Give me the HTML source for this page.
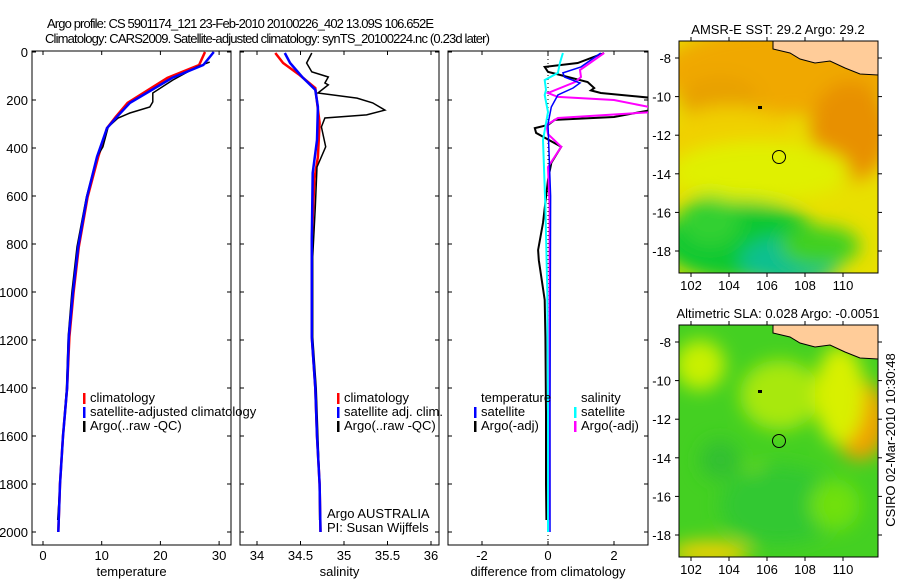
<!DOCTYPE html>
<html><head><meta charset="utf-8">
<style>
body{margin:0;background:#fff;width:900px;height:580px;overflow:hidden;font-family:"Liberation Sans",sans-serif}
svg text{font-family:"Liberation Sans",sans-serif;font-size:13px;fill:#000}
</style></head>
<body>
<svg id="s" width="900" height="580" xmlns="http://www.w3.org/2000/svg">
<text x="47" y="28" textLength="387">Argo profile: CS 5901174_121 23-Feb-2010 20100226_402 13.09S 106.652E</text>
<text x="45" y="43" textLength="445">Climatology: CARS2009. Satellite-adjusted climatology: synTS_20100224.nc (0.23d later)</text>
<defs>
<filter id="bl" x="-20%" y="-20%" width="140%" height="140%"><feGaussianBlur stdDeviation="9"/></filter>
<clipPath id="c1"><rect x="679" y="41" width="199" height="232"/></clipPath>
<clipPath id="c2"><rect x="679" y="325" width="199" height="232"/></clipPath>
<clipPath id="p1"><rect x="32" y="51" width="199" height="494"/></clipPath>
<clipPath id="p2"><rect x="240" y="51" width="199" height="494"/></clipPath>
<clipPath id="p3"><rect x="448" y="51" width="200" height="494"/></clipPath>
</defs>
<g id="g"></g>
<text transform="translate(895,440) rotate(-90)" text-anchor="middle">CSIRO 02-Mar-2010 10:30:48</text>
</svg>
<script>
// depths
const tDep=[0,54,108,212,270,317,437,604,812,1004,1187,1400,1600,1800,2000];
const tSat=[29.1,27.3,22,14.8,12.6,10.9,9.2,7.5,6.0,5.1,4.4,4.1,3.4,2.9,2.6];
const tClim=[27.6,26.6,21.2,14.4,12.4,10.9,9.4,7.6,6.1,5.2,4.5,4.1,3.4,2.9,2.6];
const tArgoDep=[42,62,117,171,208,229,254,275,312,395,437,604,812,1004,1187,1400,1600,1800,1950];
const tArgo=[28.4,26.2,22.1,18.7,18.7,18.2,14.8,12.8,11.1,10.2,9.2,7.4,5.8,4.9,4.3,4.0,3.4,2.9,2.5];
const sDep=[4,46,104,158,229,367,504,783,1187,1400,1600,1800,2000];
const sSat=[34.32,34.38,34.52,34.67,34.70,34.69,34.64,34.63,34.63,34.67,34.69,34.72,34.73];
const sClimDep=[4,46,96,150,296,437,529,783,1187,1400,1600,1800,2000];
const sClim=[34.21,34.30,34.49,34.67,34.72,34.70,34.66,34.63,34.63,34.67,34.69,34.72,34.73];
const sArgoDep=[4,46,83,104,129,137,171,192,212,242,262,275,312,395,479,646,854,1187,1400,1600,1800,1950];
const sArgo=[34.63,34.57,34.63,34.82,34.78,34.82,34.70,35.15,35.33,35.47,35.26,34.78,34.74,34.79,34.69,34.67,34.64,34.64,34.68,34.70,34.72,34.72];
const dTArgoDep=[4,46,62,83,125,150,160,171,192,240,271,283,304,317,337,395,462,533,712,825,867,1033,1187,1500,1800,1950];
const dTArgo=[1.7,0.9,-0.1,0,1.2,1.4,1.3,1.6,3.2,3.2,2.0,0.2,0,-0.4,-0.36,0.4,0.1,0,-0.15,-0.3,-0.28,-0.1,-0.08,-0.06,-0.06,-0.05];
const dTSatDep=[4,62,87,104,129,150,179,229,300,600,1000,1500,2000];
const dTSat=[1.6,1.0,0.45,0.5,0.97,0.76,0.3,0.1,0,0.08,0.07,0.06,0.06];
const dSSatDep=[4,46,87,117,158,179,250,367,646,1000,1500,2000];
const dSSat=[0.45,0.36,0.3,-0.1,-0.06,-0.1,0,-0.15,-0.08,-0.02,0,0];
const dSArgoDep=[4,75,104,125,171,187,200,233,250,275,304,342,395,479,646,1000,1500,1950];
const dSArgo=[1.7,0.97,1.0,0.82,0,0.3,2.0,3.2,3.2,0.3,-0.05,0,0.4,0,0.05,0.05,0.05,0.05];
const depthTicks=[0,200,400,600,800,1000,1200,1400,1600,1800,2000];
const p1Ticks=[0,10,20,30], p2Ticks=[34,34.5,35,35.5,36], p3Ticks=[-2,0,2];
const lonTicks=[102,104,106,108,110], latTicks=[-8,-10,-12,-14,-16,-18];

const NS='http://www.w3.org/2000/svg', G=document.getElementById('g');
function el(t,a,p){const e=document.createElementNS(NS,t);for(const k in a)e.setAttribute(k,a[k]);(p||G).appendChild(e);return e;}
const yD=d=>52+0.24*d;
const x1=v=>43+5.87*v, x2=v=>257+87*(v-34), x3=v=>548+33*v;
function line(xs,ds,xf,col,w,clip,name){
  const pts=xs.map((v,i)=>xf(v).toFixed(1)+','+yD(ds[i]).toFixed(1)).join(' ');
  const e=el('polyline',{points:pts,fill:'none',stroke:col,'stroke-width':w,'clip-path':'url(#'+clip+')'});
  
  
}
function panel(x0,w,xf,ticks,label,ylab,clip,name){
  const f=el('rect',{x:x0,y:51,width:w,height:494,fill:'#fff',stroke:'#000','stroke-width':1});
  
  
  ticks.forEach(t=>{const x=xf(t);
    el('line',{x1:x,x2:x,y1:545,y2:541,stroke:'#000'});el('line',{x1:x,x2:x,y1:51,y2:55,stroke:'#000'});
    const tx=el('text',{x:x,y:560,'text-anchor':'middle'});tx.textContent=t;
    
    });
  depthTicks.forEach(d=>{const y=yD(d);
    el('line',{x1:x0,x2:x0+4,y1:y,y2:y,stroke:'#000'});el('line',{x1:x0+w-4,x2:x0+w,y1:y,y2:y,stroke:'#000'});
    if(ylab){const tx=el('text',{x:28,y:y+5,'text-anchor':'end'});tx.textContent=d;
      
      }});
  const lb=el('text',{x:x0+w/2,y:576,'text-anchor':'middle'});lb.textContent=label;
  
  
}
panel(32,199,x1,p1Ticks,'temperature',true,'p1','temperature-panel');
panel(240,199,x2,p2Ticks,'salinity',false,'p2','salinity-panel');
panel(448,200,x3,p3Ticks,'difference from climatology',false,'p3','difference-panel');
el('line',{x1:548,x2:548,y1:51,y2:545,stroke:'#000','stroke-dasharray':'1,3'});

line(tClim,tDep,x1,'#f00',2.5,'p1','temp-climatology-line');
line(tArgo,tArgoDep,x1,'#000',1.5,'p1','temp-argo-line');
line(tSat,tDep,x1,'#00f',2.5,'p1','temp-satellite-line');
line(sClim,sClimDep,x2,'#f00',2.5,'p2','sal-climatology-line');
line(sArgo,sArgoDep,x2,'#000',1.5,'p2','sal-argo-line');
line(sSat,sDep,x2,'#00f',2.5,'p2','sal-satellite-line');
line(dTArgo,dTArgoDep,x3,'#000',2,'p3','diff-temp-argo-line');
line(dSArgo,dSArgoDep,x3,'#f0f',2,'p3','diff-sal-argo-line');
line(dTSat,dTSatDep,x3,'#00f',1.5,'p3','diff-temp-satellite-line');
line(dSSat,dSSatDep,x3,'#0ff',2,'p3','diff-sal-satellite-line');

function legend(x,y,items){items.forEach((it,i)=>{
  if(it[1])el('rect',{x:x,y:y+i*14-9,width:2.5,height:11,fill:it[1]});
  const t=el('text',{x:x+7,y:y+i*14});t.textContent=it[0];
  
  });}
legend(83,402,[['climatology','#f00'],['satellite-adjusted climatology','#00f'],['Argo(..raw -QC)','#000']]);
legend(337,402,[['climatology','#f00'],['satellite adj. clim.','#00f'],['Argo(..raw -QC)','#000']]);
legend(474,402,[['temperature',null],['satellite','#00f'],['Argo(-adj)','#000']]);
legend(574,402,[['salinity',null],['satellite','#0ff'],['Argo(-adj)','#f0f']]);
const a1=el('text',{x:327,y:518});a1.textContent='Argo AUSTRALIA';


const a2=el('text',{x:327,y:532});a2.textContent='PI: Susan Wijffels';



// maps
const lonX=l=>691+19*(l-102), latY=(la,top)=>top+17+19.3*(-8-la);
function map(top,clip,bg,blobs,title,name){
  const g=el('g',{'clip-path':'url(#'+clip+')'});
  
  
  el('rect',{x:679,y:top,width:199,height:232,fill:bg},g);
  const b=el('g',{filter:'url(#bl)'},g);
  blobs.forEach(o=>el('ellipse',{cx:o[0],cy:top+o[1],rx:o[2],ry:o[3],fill:o[4]},b));
  el('polygon',{points:`773,${top} 773,${top+8} 790,${top+12} 800,${top+18} 815,${top+22} 830,${top+20} 845,${top+27} 860,${top+33} 878,${top+34} 878,${top}`,fill:'#fc9',stroke:'#000','stroke-width':1},g);
  el('circle',{cx:779,cy:top+116,r:6.5,fill:'none',stroke:'#000'},g);
  el('rect',{x:758,y:top+65,width:4,height:3,fill:'#000'},g);
  el('rect',{x:679,y:top,width:199,height:232,fill:'none',stroke:'#000'});
  lonTicks.forEach(l=>{const x=lonX(l);el('line',{x1:x,x2:x,y1:top,y2:top-4,stroke:'#000'});el('line',{x1:x,x2:x,y1:top+232,y2:top+236,stroke:'#000'});
    const t=el('text',{x:x,y:top+249,'text-anchor':'middle'});t.textContent=l;
    
    });
  latTicks.forEach(la=>{const y=latY(la,top);el('line',{x1:675,x2:679,y1:y,y2:y,stroke:'#000'});el('line',{x1:878,x2:882,y1:y,y2:y,stroke:'#000'});
    const t=el('text',{x:671,y:y+5,'text-anchor':'end'});t.textContent=la;
    
    });
  const t=el('text',{x:778,y:top-7,'text-anchor':'middle'});t.textContent=title;
  
  
}
map(41,'c1','#e8e000',[[780,30,120,45,'#f0a800'],[850,90,40,50,'#e89000'],[720,60,40,25,'#e8a000'],[730,105,70,40,'#f0d000'],[760,130,90,30,'#e0f000'],[740,200,80,40,'#10c830'],[790,220,50,25,'#10c090'],[820,205,40,20,'#40d020'],[710,180,30,25,'#30d030']],'AMSR-E SST: 29.2  Argo: 29.2','sst-map');
map(325,'c2','#44d022',[[700,40,25,25,'#c8f000'],[780,70,40,35,'#a8e810'],[860,95,28,40,'#f0a000'],[840,70,25,50,'#d8f000'],[760,160,20,20,'#b8f000'],[710,228,40,12,'#f0d000'],[780,180,60,40,'#30c830'],[720,135,20,20,'#30c030'],[835,180,25,25,'#70e010']],'Altimetric SLA: 0.028  Argo: -0.0051','sla-map');
</script>
</body></html>
